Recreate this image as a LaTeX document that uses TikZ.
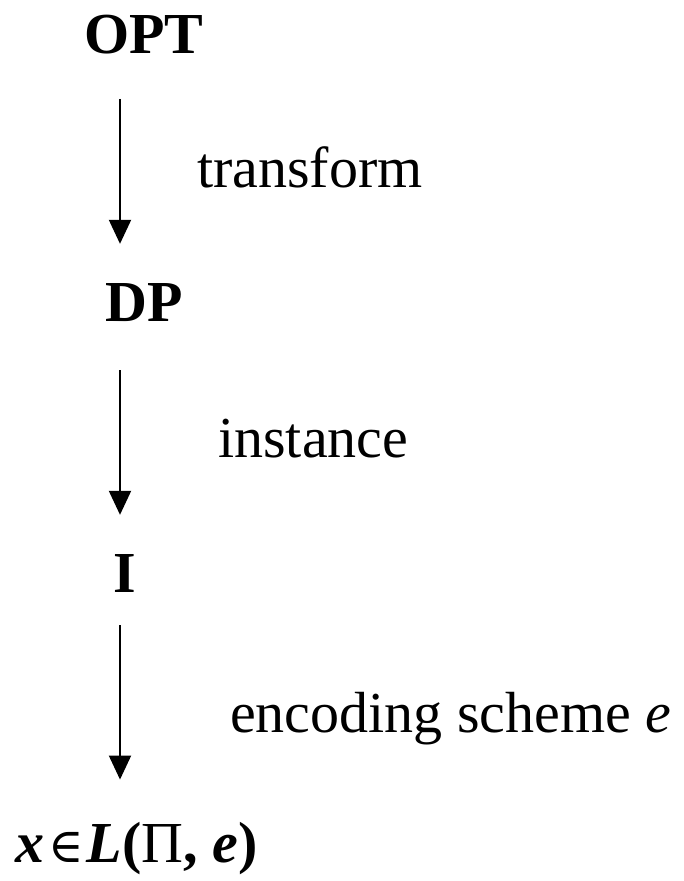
\documentclass[tikz,border=0pt]{standalone}
\usepackage{fontspec}
\setmainfont{Liberation Serif}
\newfontfamily\symfont{DejaVu Serif}
\usepackage{tikz}
\usetikzlibrary{positioning,arrows.meta,calc}

\begin{document}
\begin{tikzpicture}[
      x=1pt,y=1pt,
      every node/.style={font=\fontsize{58}{60}\selectfont,inner sep=0pt,
                         anchor=base west},
      prob/.style={font=\fontsize{58}{60}\selectfont\bfseries},
      lbl/.style={font=\fontsize{58}{60}\selectfont},
      arr/.style={-{Triangle[length=24pt,width=22pt]},line width=2pt,black},
    ]
    \useasboundingbox (0,0) rectangle (684,881);

    % --- Problem chain ---
    \node[prob] (opt) at (84,827) {OPT};
    \node[prob] (dp)  at (105,559) {DP};
    \node[prob] (inst) at (113,288) {I};
    \node (lang) at (15,19) {\textbf{\textit{x}}\kern4pt{\symfont\fontsize{48}{50}\selectfont ∈}\kern3pt\textbf{\textit{L}(}Π\textbf{, \textit{e})}};

    % --- Arrow axis ---
    \coordinate (axis) at (120,0);

    % --- Transitions ---
    \draw[arr,shorten <=44pt,shorten >=40pt] (opt.south -| axis) -- (dp.north -| axis);
    \draw[arr,shorten <=48pt,shorten >=40pt] (dp.south -| axis) -- (inst.north -| axis);
    \draw[arr,shorten <=32pt,shorten >=42pt] (inst.south -| axis) -- (lang.north -| axis);

    % --- Transition labels ---
    \node[lbl] (ltrans) at (197,693) {transform};
    \node[lbl] (linst)  at (218,423) {instance};
    \node[lbl] (lenc)   at (230,148) {encoding scheme \textit{e}};

  \end{tikzpicture}
\end{document}
